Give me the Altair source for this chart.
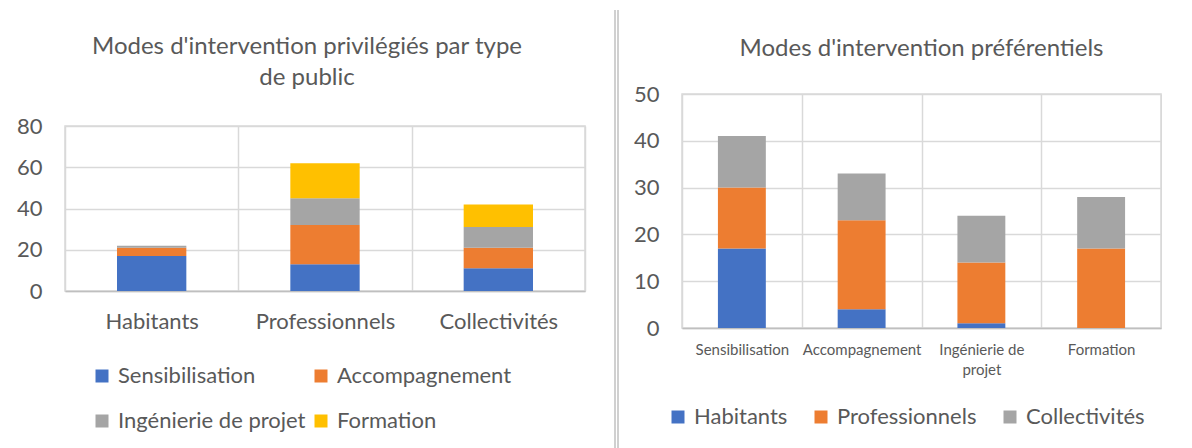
import altair as alt
import pandas as pd

publics = ["Habitants", "Professionnels", "Collectivités"]
modes = ["Sensibilisation", "Accompagnement", "Ingénierie de projet", "Formation"]
sensibilisation = [17, 13, 11]
accompagnement = [4, 19, 10]
ingenierie = [1, 13, 10]
formation = [0, 17, 11]

mode_colors = ["#4472C4", "#ED7D31", "#A5A5A5", "#FFC000"]
public_colors = ["#4472C4", "#ED7D31", "#A5A5A5"]

series = [sensibilisation, accompagnement, ingenierie, formation]
rows = []
for mi, (m, vals) in enumerate(zip(modes, series)):
    for pi, (p, v) in enumerate(zip(publics, vals)):
        rows.append({"mode": m, "public": p, "value": v, "mi": mi, "pi": pi})
df = pd.DataFrame(rows)

FONT = "Lato"
TXT = "#595959"
GRID = "#D9D9D9"
NOSTROKE = alt.ViewBackground(stroke="transparent")

# header block carrying the left chart's two-line title
left_header = alt.Chart(
    df,
    title=alt.TitleParams(
        ["Modes d'intervention privilégiés par type", "de public"],
        fontSize=24, font=FONT, color=TXT, fontWeight="normal",
        anchor="middle", offset=1, lineHeight=31, dx=-18,
    ),
).mark_point(opacity=0).encode(
    x=alt.value(0), y=alt.value(0)
).properties(width=520, height=19, view=NOSTROKE)

left = alt.Chart(df).mark_bar(width=alt.RelativeBandSize(0.4)).encode(
    x=alt.X("public:N", sort=publics, title=None,
            scale=alt.Scale(paddingInner=0, paddingOuter=0),
            axis=alt.Axis(tickBand="extent", grid=True, ticks=False, labelAngle=0,
                          labelFontSize=22, labelPadding=20, domainColor="#BFBFBF",
                          domainWidth=1.5)),
    y=alt.Y("value:Q", stack="zero", title=None,
            scale=alt.Scale(domain=[0, 80], nice=False),
            axis=alt.Axis(values=[0, 20, 40, 60, 80], domain=False, ticks=False,
                          labelFontSize=22, labelPadding=23)),
    color=alt.Color("mode:N", sort=modes,
                    scale=alt.Scale(domain=modes, range=mode_colors),
                    legend=alt.Legend(title=None, orient="none", legendX=26, legendY=271,
                                      columns=2, direction="horizontal",
                                      symbolType="square", symbolSize=169,
                                      symbolStrokeWidth=0, labelFontSize=22, labelOffset=5,
                                      labelLimit=400, rowPadding=23, columnPadding=4,
                                      padding=0)),
    order=alt.Order("mi:Q", sort="ascending"),
).properties(width=520, height=165)

left_block = alt.vconcat(left_header, left, spacing=0)

# double grey separator between the two chart panels
sep_a = alt.Chart(df).mark_rule(color="#D0D0D0", strokeWidth=2).encode(
    x=alt.value(16), y=alt.value(-84), y2=alt.value(360)
)
sep_b = alt.Chart(df).mark_rule(color="#D0D0D0", strokeWidth=2).encode(
    x=alt.value(19), y=alt.value(-84), y2=alt.value(360)
)
sep = alt.layer(sep_a, sep_b).properties(width=20, height=234, view=NOSTROKE)

right = alt.Chart(
    df,
    title=alt.TitleParams(
        "Modes d'intervention préférentiels",
        fontSize=24, font=FONT, color=TXT, fontWeight="normal",
        anchor="middle", offset=22,
    ),
).mark_bar(width=alt.RelativeBandSize(0.4)).encode(
    x=alt.X("mode:N", sort=modes, title=None,
            scale=alt.Scale(paddingInner=0, paddingOuter=0),
            axis=alt.Axis(tickBand="extent", grid=True, ticks=False, labelAngle=0,
                          labelFontSize=15, labelPadding=14, domainColor="#BFBFBF",
                          domainWidth=1.5, labelLineHeight=20,
                          labelExpr="datum.label == 'Ingénierie de projet' ? ['Ingénierie de', 'projet'] : datum.label")),
    y=alt.Y("value:Q", stack="zero", title=None,
            scale=alt.Scale(domain=[0, 50], nice=False),
            axis=alt.Axis(values=[0, 10, 20, 30, 40, 50], domain=False, ticks=False,
                          labelFontSize=22, labelPadding=23)),
    color=alt.Color("public:N", sort=publics,
                    scale=alt.Scale(domain=publics, range=public_colors),
                    legend=alt.Legend(title=None, orient="none", legendX=-15, legendY=312,
                                      columns=3, direction="horizontal",
                                      symbolType="square", symbolSize=169,
                                      symbolStrokeWidth=0, labelFontSize=22, labelOffset=5,
                                      labelLimit=400, columnPadding=22, padding=0)),
    order=alt.Order("pi:Q", sort="ascending"),
).properties(width=479, height=234)

chart = alt.hconcat(left_block, sep, right, spacing=12).resolve_scale(
    color="independent", x="independent", y="independent"
).resolve_legend(color="independent").properties(
    padding={"left": 7, "top": 0, "right": 0, "bottom": 0}
).configure(font=FONT).configure_axis(
    labelColor=TXT, labelFont=FONT, gridColor=GRID, gridWidth=1.5,
).configure_legend(labelColor=TXT, labelFont=FONT).configure_view(
    stroke=GRID, strokeWidth=1.5
)

chart.save("out.html", embed_options={"renderer": "svg", "actions": False})
